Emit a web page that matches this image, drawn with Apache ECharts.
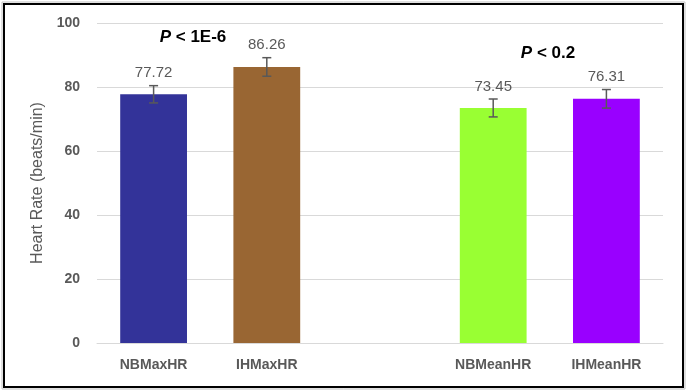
<!DOCTYPE html>
<html>
<head>
<meta charset="utf-8">
<script src="https://cdn.jsdelivr.net/npm/echarts@6/dist/echarts.min.js"></script>
<style>html,body{margin:0;padding:0;background:#fff}#c{width:687px;height:391px}</style>
</head>
<body>
<div id="c"></div>
<script>
const categories = ['NBMaxHR', 'IHMaxHR', '', 'NBMeanHR', 'IHMeanHR'];
const values = [77.72, 86.26, null, 73.45, 76.31];
const errors = [2.7, 2.9, null, 2.8, 2.9];
const barColors = ['#333399', '#996633', '#ffffff', '#99ff33', '#9900ff'];
const yTicks = [0, 20, 40, 60, 80, 100];
const pAnnotations = [
  { text: '< 1E-6', x: 193, y: 37 },
  { text: '< 0.2', x: 548, y: 53 }
];

const chart = echarts.init(document.getElementById('c'), null, { renderer: 'canvas' });
const font = 'Liberation Sans, Arial, sans-serif';
const gray = '#595959';

const option = {
  animation: false,
  backgroundColor: '#ffffff',
  grid: { left: 97, right: 24, top: 23, bottom: 48 },
  xAxis: {
    type: 'category',
    data: categories,
    axisLine: { lineStyle: { color: '#d9d9d9', width: 1 } },
    axisTick: { show: false },
    axisLabel: { color: gray, fontFamily: font, fontSize: 14, fontWeight: 'bold', margin: 15 }
  },
  yAxis: {
    type: 'value',
    min: yTicks[0], max: yTicks[yTicks.length - 1], interval: 20,
    name: 'Heart Rate (beats/min)',
    nameLocation: 'middle',
    nameGap: 48,
    nameTextStyle: { color: gray, fontFamily: font, fontSize: 16 },
    axisLine: { show: false },
    axisTick: { show: false },
    axisLabel: { color: gray, fontFamily: font, fontSize: 14, fontWeight: 'bold', margin: 17 },
    splitLine: { lineStyle: { color: '#d9d9d9', width: 1 } }
  },
  series: [
    {
      type: 'bar',
      barWidth: '59%',
      data: values.map((v, i) => ({ value: v, itemStyle: { color: barColors[i] } }))
    },
    {
      type: 'custom',
      data: values.map((v, i) => [i, v, errors[i]]),
      renderItem: function (params, api) {
        const v = api.value(1);
        if (v == null || isNaN(v)) return;
        const e = api.value(2);
        const x = api.coord([api.value(0), v])[0];
        const top = api.coord([api.value(0), v + e])[1];
        const bot = api.coord([api.value(0), v - e])[1];
        const hw = 4.5;
        const st = { stroke: gray, lineWidth: 1.5 };
        return {
          type: 'group',
          children: [
            { type: 'line', shape: { x1: x, y1: top, x2: x, y2: bot }, style: st },
            { type: 'line', shape: { x1: x - hw, y1: top, x2: x + hw, y2: top }, style: st },
            { type: 'line', shape: { x1: x - hw, y1: bot, x2: x + hw, y2: bot }, style: st },
            { type: 'text', x: x, y: top - 12.5, style: {
                text: v.toFixed(2), fill: gray, font: '15px ' + font,
                textAlign: 'center', textVerticalAlign: 'middle' } }
          ]
        };
      },
      z: 5
    }
  ],
  graphic: [
    { type: 'rect', shape: { x: 2, y: 2, width: 683, height: 387 }, style: { fill: 'none', stroke: '#bfbfbf', lineWidth: 1 }, silent: true },
    { type: 'rect', shape: { x: 4, y: 4, width: 679, height: 383 }, style: { fill: 'none', stroke: '#000000', lineWidth: 2 }, silent: true }
  ].concat(pAnnotations.map(p => ({
    type: 'text', x: p.x, y: p.y,
    style: {
      text: '{i|P} {b|' + p.text + '}',
      rich: {
        i: { fontFamily: font, fontSize: 17, fontWeight: 'bold', fontStyle: 'italic', fill: '#000' },
        b: { fontFamily: font, fontSize: 17, fontWeight: 'bold', fill: '#000' }
      },
      textAlign: 'center', textVerticalAlign: 'middle', fill: '#000',
      font: 'bold 17px ' + font
    }
  })))
};
chart.setOption(option);
</script>
</body>
</html>
